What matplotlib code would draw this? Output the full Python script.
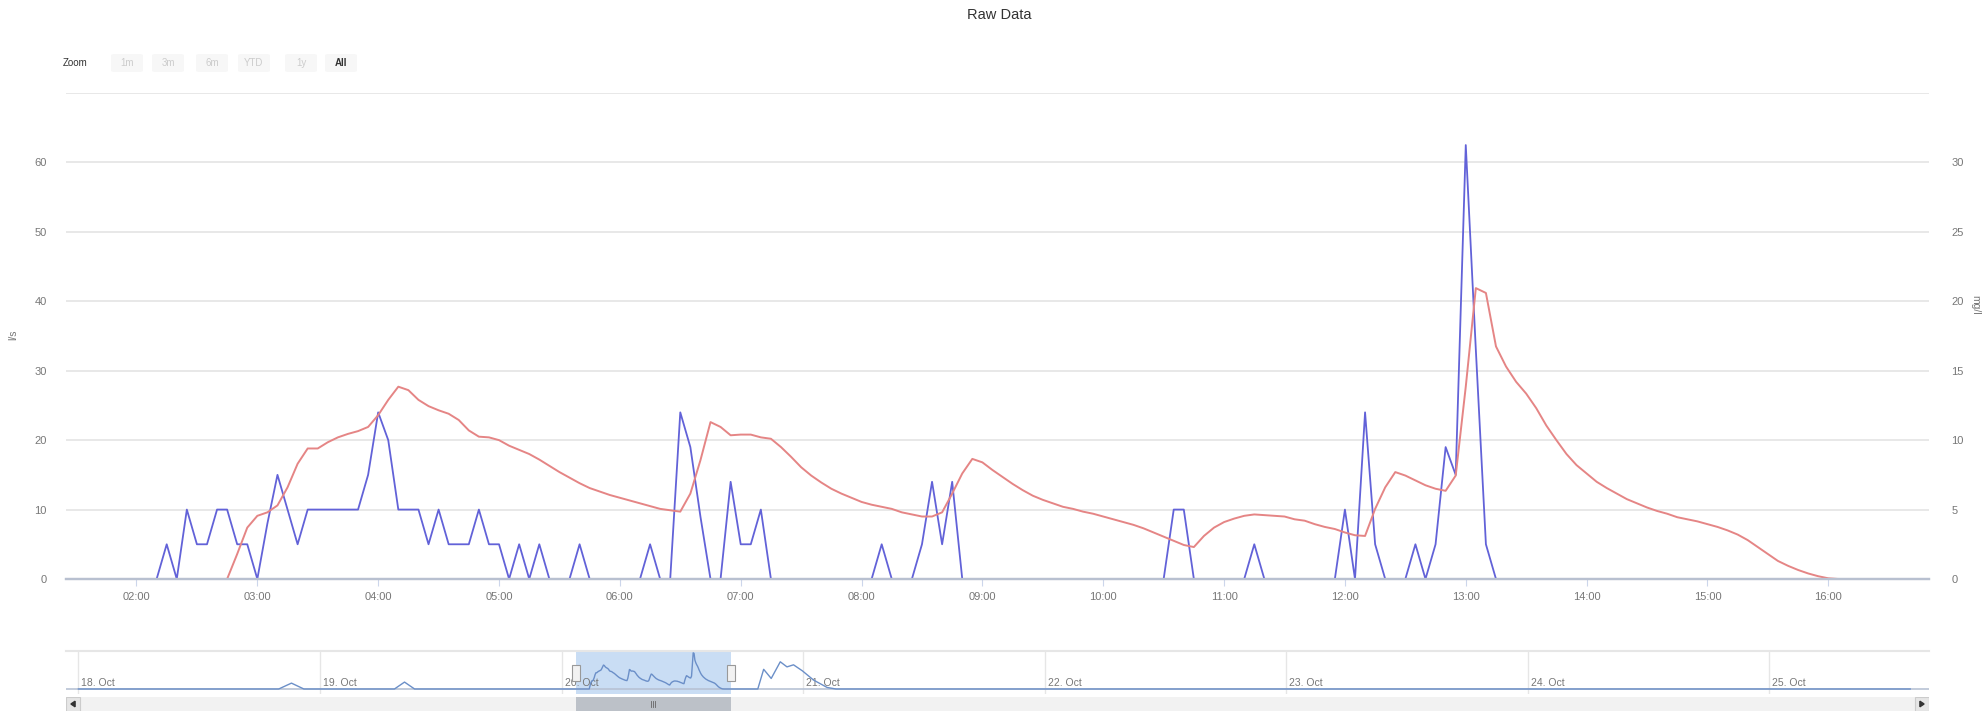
import pandas as pd
import numpy as np
import matplotlib
matplotlib.use('Agg')
import matplotlib.pyplot as plt
import matplotlib.dates as mdates
from matplotlib.patches import Rectangle, FancyBboxPatch, Polygon
from matplotlib.transforms import blended_transform_factory

plt.rcParams['font.family'] = ['Liberation Sans', 'DejaVu Sans']

W, H = 1983, 714

# Série principal: amostras de 5 em 5 minutos a partir de 01:25
inicio = pd.Timestamp('2016-10-20 01:25')

# vazão (l/s) - linha azul
vazao = [
    0, 0, 0, 0, 0, 0, 0,                                   # 01:25-01:55
    0, 0, 0, 5, 0, 10, 5, 5, 10, 10, 5, 5,                 # 02h
    0, 8, 15, 10, 5, 10, 10, 10, 10, 10, 10, 15,           # 03h
    24, 20, 10, 10, 10, 5, 10, 5, 5, 5, 10, 5,             # 04h
    5, 0, 5, 0, 5, 0, 0, 0, 5, 0, 0, 0,                    # 05h
    0, 0, 0, 5, 0, 0, 24, 19, 9, 0, 0, 14,                 # 06h
    5, 5, 10, 0, 0, 0, 0, 0, 0, 0, 0, 0,                   # 07h
    0, 0, 5, 0, 0, 0, 5, 14, 5, 14, 0, 0,                  # 08h
    0, 0, 0, 0, 0, 0, 0, 0, 0, 0, 0, 0,                    # 09h
    0, 0, 0, 0, 0, 0, 0, 10, 10, 0, 0, 0,                  # 10h
    0, 0, 0, 5, 0, 0, 0, 0, 0, 0, 0, 0,                    # 11h
    10, 0, 24, 5, 0, 0, 0, 5, 0, 5, 19, 15,                # 12h
    62.5, 33, 5, 0, 0, 0, 0, 0, 0, 0, 0, 0,                # 13h
    0, 0, 0, 0, 0, 0, 0, 0, 0, 0, 0, 0,                    # 14h
    0, 0, 0, 0, 0, 0, 0, 0, 0, 0, 0, 0,                    # 15h
    0, 0, 0, 0, 0, 0, 0, 0, 0, 0, 0,                       # 16:00-16:50
]

# concentração (eixo da direita) - linha vermelha
concentracao = [
    0, 0, 0, 0, 0, 0, 0,                                   # 01:25-01:55
    0, 0, 0, 0, 0, 0, 0, 0, 0, 0, 1.8, 3.7,                # 02h
    4.55, 4.8, 5.3, 6.6, 8.3, 9.4, 9.4, 9.85, 10.2, 10.45, 10.65, 10.95,
    11.8, 12.9, 13.85, 13.6, 12.9, 12.45, 12.15, 11.9, 11.45, 10.7, 10.25, 10.2,
    10.0, 9.6, 9.3, 9.0, 8.6, 8.15, 7.7, 7.3, 6.9, 6.55, 6.3, 6.05,
    5.85, 5.65, 5.45, 5.25, 5.05, 4.95, 4.85, 6.15, 8.55, 11.3, 10.95, 10.35,
    10.4, 10.4, 10.2, 10.1, 9.5, 8.8, 8.05, 7.45, 6.95, 6.5, 6.15, 5.85,
    5.55, 5.35, 5.2, 5.05, 4.8, 4.65, 4.5, 4.5, 4.8, 6.15, 7.6, 8.65,
    8.4, 7.85, 7.35, 6.85, 6.4, 6.0, 5.7, 5.45, 5.2, 5.05, 4.85, 4.7,
    4.5, 4.3, 4.1, 3.9, 3.65, 3.35, 3.05, 2.75, 2.45, 2.3, 3.1, 3.7,
    4.1, 4.35, 4.55, 4.65, 4.6, 4.55, 4.5, 4.3, 4.2, 3.95, 3.75, 3.6,
    3.35, 3.15, 3.1, 5.05, 6.6, 7.7, 7.45, 7.1, 6.75, 6.5, 6.35, 7.45,
    13.85, 20.95, 20.6, 16.75, 15.3, 14.2, 13.35, 12.3, 11.05, 10.0, 9.0, 8.2,
    7.6, 7.0, 6.55, 6.15, 5.75, 5.45, 5.15, 4.9, 4.7, 4.45, 4.3, 4.15,
    3.95, 3.75, 3.5, 3.2, 2.8, 2.3, 1.8, 1.3, 0.95, 0.65, 0.4, 0.2,
    0.05, 0, 0, 0, 0, 0, 0, 0, 0, 0, 0,                    # 16:00-16:50
]

# Navegador: pontos fora do período principal
nav_tempos = ['2016-10-18 00:00', '2016-10-18 19:54', '2016-10-18 21:10', '2016-10-18 22:24',
              '2016-10-19 07:24', '2016-10-19 08:24', '2016-10-19 09:24', '2016-10-20 01:20']
nav_valores = [0, 0, 3.4, 0, 0, 4, 0, 0]
nav_tempos_depois = ['2016-10-20 16:55', '2016-10-20 19:30', '2016-10-20 20:05', '2016-10-20 20:50',
                     '2016-10-20 21:44', '2016-10-20 22:24', '2016-10-20 23:03', '2016-10-20 23:56',
                     '2016-10-21 01:02', '2016-10-21 02:23', '2016-10-21 03:16', '2016-10-25 14:00']
nav_valores_depois = [0, 0, 11.4, 6.1, 15.75, 12.8, 14, 10.5, 5.2, 0.9, 0, 0]
nav_dias = pd.date_range('2016-10-18', '2016-10-25', freq='D')

botoes_zoom = ['1m', '3m', '6m', 'YTD', '1y', 'All']

azul = '#6262d8'
vermelho = '#e58585'
cinza_grade = '#e6e6e6'
cor_texto = '#777777'


def caixa(l, t, r, b):
    """Converte caixa em pixels (topo-esquerda) para fração da figura"""
    return [l / W, 1 - b / H, (r - l) / W, (b - t) / H]


tempos = pd.date_range(inicio, periods=len(vazao), freq='5min')
fim = tempos[-1]

fig = plt.figure(figsize=(W / 100, H / 100), dpi=100)

# Título e botões de zoom
fig.text(999 / W, 1 - 15 / H, 'Raw Data', ha='center', va='center', fontsize=10.5, color='#333333')
fig.text(63 / W, 1 - 63 / H, 'Zoom', ha='left', va='center', fontsize=7, color='#333333')
pos_botoes = [127, 168, 212, 254, 301, 341]
for nome, xb in zip(botoes_zoom, pos_botoes):
    fig.patches.append(FancyBboxPatch(((xb - 16) / W, 1 - 72 / H), 32 / W, 18 / H,
                                      boxstyle='round,pad=0,rounding_size=0.002',
                                      transform=fig.transFigure, facecolor='#f7f7f7',
                                      edgecolor='none'))
    ativo = nome == 'All'
    fig.text(xb / W, 1 - 63 / H, nome, ha='center', va='center', fontsize=7,
             color='#333333' if ativo else '#cccccc', fontweight='bold' if ativo else 'normal')

# Gráfico principal
ax = fig.add_axes(caixa(66, 93, 1929, 579))
ax2 = ax.twinx()
ax.plot(tempos, vazao, color=azul, lw=1.3, zorder=3)
ax2.plot(tempos, concentracao, color=vermelho, lw=1.4, zorder=2)

ax.set_xlim(inicio, fim)
ax.set_ylim(0, 70)
ax2.set_ylim(0, 35)
ax.set_yticks(range(0, 80, 10))
ax.set_yticklabels([str(v) for v in range(0, 70, 10)] + [''])
ax2.set_yticks(range(0, 40, 5))
ax2.set_yticklabels([str(v) for v in range(0, 35, 5)] + [''])
ax.yaxis.grid(True, color=cinza_grade, lw=1.3)
ax.set_axisbelow(True)

for a in (ax, ax2):
    for s in ('top', 'left', 'right'):
        a.spines[s].set_visible(False)
    a.spines['bottom'].set_color('#b8c0d0')
    a.spines['bottom'].set_linewidth(1.6)
ax.tick_params(axis='y', length=0, pad=14, labelsize=8, labelcolor=cor_texto)
ax2.tick_params(axis='y', length=0, pad=16, labelsize=8, labelcolor=cor_texto)
ax.xaxis.set_major_locator(mdates.HourLocator(byhour=range(2, 17)))
ax.xaxis.set_major_formatter(mdates.DateFormatter('%H:%M'))
ax.tick_params(axis='x', length=5, color='#ccd6eb', pad=4.5, labelsize=8, labelcolor=cor_texto)

fig.text(13 / W, 1 - 335 / H, 'l/s', rotation=90, ha='center', va='center', fontsize=7.5, color=cor_texto)
fig.text(1975 / W, 1 - 305 / H, 'mg/l', rotation=270, ha='center', va='center', fontsize=7.5, color=cor_texto)

# Navegador
nav_ini = pd.Timestamp('2016-10-17 22:46')
nav_fim = pd.Timestamp('2016-10-25 15:52')
nav = fig.add_axes(caixa(66, 651, 1929, 694))
nav.set_xlim(nav_ini, nav_fim)
nav.set_ylim(-2.9, 22)
nav.axvspan(inicio, fim, color='#c9ddf4', lw=0, zorder=1)
for d in nav_dias:
    nav.axvline(d, color=cinza_grade, lw=1, zorder=0)
    nav.text(d + pd.Timedelta(minutes=18), 0.6, d.strftime('%d. %b'), fontsize=7.5,
             color=cor_texto, ha='left', va='bottom', zorder=2)
nav_x = list(pd.to_datetime(nav_tempos)) + list(tempos) + list(pd.to_datetime(nav_tempos_depois))
nav_y = nav_valores + concentracao + nav_valores_depois
nav.plot(nav_x, nav_y, color='#6b8fc8', lw=1, zorder=3)
nav.axhline(0, color='#b8c2d4', lw=1.2, zorder=2)
for s in ('left', 'right', 'bottom'):
    nav.spines[s].set_visible(False)
nav.spines['top'].set_color(cinza_grade)
nav.spines['top'].set_linewidth(1.5)
nav.set_xticks([])
nav.set_yticks([])
trans = blended_transform_factory(nav.transData, nav.transAxes)
largura = pd.Timedelta(minutes=48)
for borda in (inicio, fim):
    nav.add_patch(Rectangle((mdates.date2num(borda - largura / 2), 0.3),
                            largura / pd.Timedelta(days=1), 0.38, transform=trans,
                            facecolor='#f2f2f2', edgecolor='#999999', lw=0.8, zorder=4))

# Barra de rolagem
barra = fig.add_axes(caixa(66, 697, 1929, 711))
barra.set_xlim(nav_ini, nav_fim)
barra.set_ylim(0, 1)
barra.set_facecolor('#f2f2f2')
for s in barra.spines.values():
    s.set_visible(False)
barra.set_xticks([])
barra.set_yticks([])
barra.axvspan(inicio, fim, color='#bcc1c8', lw=0)
meio = inicio + (fim - inicio) / 2
for k in (-1, 0, 1):
    barra.axvline(meio + pd.Timedelta(minutes=12 * k), ymin=0.3, ymax=0.7, color='#666666', lw=0.6)
tb = barra.transAxes
esq = 14 / (1929 - 66)
barra.add_patch(Rectangle((0, 0), esq, 1, transform=tb, facecolor='#e6e6e6', edgecolor='#cccccc', lw=0.8))
barra.add_patch(Rectangle((1 - esq, 0), esq, 1, transform=tb, facecolor='#e6e6e6', edgecolor='#cccccc', lw=0.8))
barra.add_patch(Polygon([[esq * 0.35, 0.5], [esq * 0.65, 0.7], [esq * 0.65, 0.3]], transform=tb, color='#333333'))
barra.add_patch(Polygon([[1 - esq * 0.35, 0.5], [1 - esq * 0.65, 0.7], [1 - esq * 0.65, 0.3]], transform=tb, color='#333333'))

fig.savefig('out.png', dpi=100)
